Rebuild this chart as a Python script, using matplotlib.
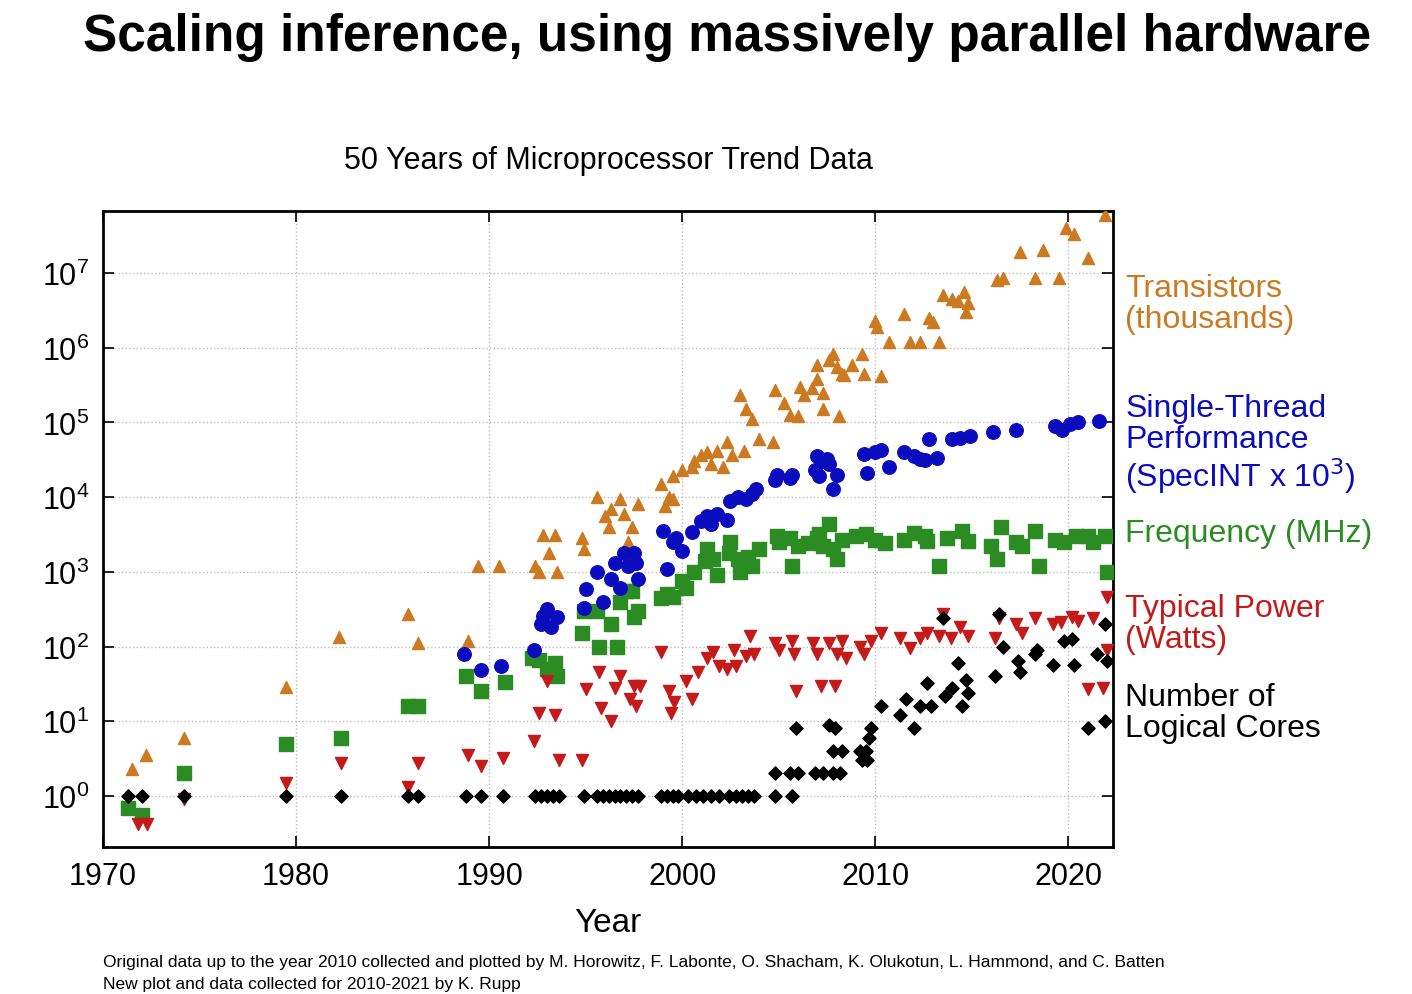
import matplotlib
matplotlib.use("Agg")
import matplotlib.pyplot as plt
import numpy as np

plt.rcParams['font.family'] = ['Liberation Sans', 'DejaVu Sans']

trans_year = [1971.5,1972.2,1974.2,1979.5,1982.2,1985.8,1986.3,1988.9,1989.4,1990.5,1992.4,1992.8,1993.4,1993.1,1993.5,1992.6,1994.8,1994.9,1995.6,1996,1996.3,1996.2,1996.8,1997,1997.4,1997.7,1997.2,1998.9,1999.3,1999.1,1999.5,1999.5,2000,2000.5,2000.6,2001,2001.3,2001.5,2001.8,2002.3,2002.1,2002.6,2003,2003.3,2003.6,2003.2,2004,2004.8,2004.7,2005.3,2005.6,2006.1,2006,2006.3,2006.7,2007,2007,2007.3,2007.3,2007.6,2007.8,2008,2008.1,2008.3,2008.4,2008.8,2009.3,2009.4,2010,2010.1,2010.3,2010.7,2011.5,2011.8,2012.3,2012.8,2013,2013.3,2013.5,2014,2014.3,2014.6,2014.7,2014.8,2016.3,2016.6,2017.5,2018.3,2018.7,2019.5,2019.9,2020.3,2021,2021.9]
trans_val = [2.3,3.5,6,29,134,275,110,120,1200,1200,1200,3100,3100,1800,1000,1000,2800,2000,10000,5500,7000,4000,9500,6000,4000,8000,2500,15000,10000,7500,19000,9500,23000,25000,30000,37000,40000,28000,42000,55000,25000,37000,230000,150000,110000,42000,60000,275000,55000,180000,125000,300000,120000,230000,290000,590000,380000,150000,250000,680000,820000,550000,120000,450000,430000,580000,820000,440000,2300000,1900000,420000,1200000,2800000,1200000,1200000,2500000,2200000,1200000,5000000,4500000,4200000,5500000,3000000,4000000,8000000,8500000,19000000,8500000,20000000,8500000,40000000,33000000,16000000,60000000]

st_year = [1988.7,1989.6,1990.6,1992.3,1992.7,1992.8,1993,1993.2,1993.5,1994.9,1995,1995.6,1995.9,1996.3,1996.5,1996.8,1997,1997.2,1997.5,1997.7,1997.6,1999,1999.2,1999.5,1999.7,2000,2000.5,2001,2001.3,2001.8,2001.5,2002.3,2002.5,2002.9,2003.3,2003.6,2003.8,2004.8,2004.9,2005.7,2005.6,2006.9,2007,2007.1,2007.3,2007.6,2007.8,2008,2007.5,2009.4,2009.6,2010,2010.3,2010.7,2011.5,2012,2012.3,2012.8,2012.6,2013.2,2014,2014.4,2014.9,2016.1,2017.3,2019.3,2019.7,2020.1,2020.5,2021.6]
st_val = [80,48,55,90,200,260,320,180,250,330,580,1000,400,800,1300,600,1800,1200,1800,800,1300,3500,1100,2500,2800,1900,3400,4800,5500,6000,4300,5000,9000,10000,9500,11000,13000,17000,20000,20000,18000,23000,35000,19000,30000,28000,13000,20000,32000,38000,21000,40000,43000,25000,40000,35000,32000,60000,31000,33000,60000,62000,65000,75000,80000,90000,80000,95000,100000,105000]

freq_year = [1971.3,1972,1974.2,1979.5,1982.3,1985.8,1986.3,1988.8,1989.6,1990.8,1992.2,1992.6,1993,1993.4,1993.5,1994.8,1994.9,1995.6,1995.7,1996.3,1996.6,1996.8,1997.1,1997.4,1997.5,1997.7,1998.9,1999.2,1999.5,2000,2000.2,2000.6,2001.2,2001.3,2001.8,2001.6,2002.4,2002.5,2002.9,2003,2003.4,2003.6,2004,2004.9,2005,2005.6,2005.7,2006,2006.5,2007,2007.1,2007.3,2007.6,2007.8,2008,2008.3,2009,2009.5,2010,2010.5,2011.5,2012,2012.6,2012.7,2013.3,2013.7,2014.5,2014.8,2016,2016.3,2016.5,2017.3,2017.6,2018.3,2018.5,2019.3,2019.8,2020.4,2021,2021.3,2021.9,2022]
freq_val = [0.7,0.55,2,5,6,16,16,40,25,33,70,66,50,60,40,150,300,300,100,200,100,400,550,550,250,300,450,500,460,750,600,1000,1400,2000,900,1500,1800,2500,1500,1000,1600,1200,2000,3000,2500,2800,1200,2200,2400,2800,3200,2200,4400,2000,1500,2700,3000,3200,2700,2400,2700,3300,3000,2600,1200,2800,3500,2600,2200,1500,4000,2500,2200,3500,1200,2700,2500,3000,3000,2500,3000,1000]

pow_year = [1971.8,1972.3,1974.2,1979.5,1982.3,1985.8,1986.3,1988.9,1989.6,1990.7,1992.3,1992.6,1993,1993.4,1993.6,1994.8,1995,1995.7,1995.8,1996.3,1996.5,1996.8,1997.3,1997.5,1997.6,1997.8,1998.9,1999.3,1999.4,1999.6,2000.2,2000.5,2000.8,2001.3,2001.6,2001.9,2002.3,2002.7,2002.8,2003.3,2003.5,2003.7,2004.8,2005,2005.7,2005.8,2005.9,2006.8,2007,2007.2,2007.6,2007.9,2008,2008.3,2008.5,2009.2,2009.4,2009.8,2010.3,2011.3,2011.8,2012.3,2012.7,2013.3,2013.5,2013.9,2014.4,2014.8,2016.2,2016.4,2017.3,2017.6,2018.3,2019.2,2019.6,2020.2,2020.5,2021,2021.3,2021.8,2022,2022]
pow_val = [0.42,0.42,0.9,1.5,2.8,1.3,2.8,3.5,2.5,3.2,5.5,13,35,12,3,3,27,45,15,10,28,40,20,30,16,30,85,25,13,18,35,20,45,70,85,55,50,90,55,75,140,80,110,90,120,80,25,110,80,30,110,30,80,120,70,100,80,120,150,130,95,130,150,140,270,130,180,140,130,240,200,150,240,200,210,250,220,27,240,28,90,460]

core_year = [1971.3,1972,1974.2,1979.5,1982.3,1985.8,1986.3,1988.8,1989.6,1990.7,1992.4,1992.7,1993,1993.3,1993.6,1994.9,1995.6,1995.9,1996.2,1996.5,1996.8,1997.1,1997.4,1997.7,1998.9,1999.2,1999.5,1999.8,2000.3,2000.7,2001.1,2001.5,2001.9,2002.4,2002.8,2003.1,2003.4,2003.7,2004.8,2005.7,2004.8,2005.6,2006,2006.9,2007.3,2007.8,2008.2,2005.9,2007.6,2007.8,2008.3,2007.9,2009.2,2009.5,2009.6,2009.7,2009.8,2009.3,2010.3,2011.3,2011.6,2012,2012.3,2012.7,2012.9,2013.5,2013.6,2014,2014.3,2014.5,2014.7,2014.8,2016.2,2016.4,2016.6,2017.4,2017.5,2018.3,2018.4,2019.2,2019.8,2020.2,2020.3,2021,2021.5,2021.9,2022,2021.9]
core_val = [1]*40 + [2,2,2,2,2,2,2,8,9,4,4,8,4,4,3,6,8,3,16,12,20,8,16,32,16,240,22,28,60,16,36,24,40,270,100,64,45,80,90,56,120,128,56,8,80,200,64,10]

fig = plt.figure(figsize=(14.12, 9.95), dpi=100)
ax = fig.add_axes([0.073, 0.148, 0.715, 0.639])
ms = 10
ax.scatter(trans_year, trans_val, marker='^', s=75, color='#cc7a22', zorder=3)
ax.scatter(st_year, st_val, marker='o', s=95, color='#0c0cbf', zorder=4)
ax.scatter(freq_year, freq_val, marker='s', s=95, color='#2a8c22', zorder=3)
ax.scatter(pow_year, pow_val, marker='v', s=75, color='#c41a1a', zorder=5)
ax.scatter(core_year, core_val, marker='D', s=45, color='black', zorder=6)

ax.set_yscale('log')
ax.set_xlim(1970, 2022.3)
ax.set_ylim(10**-0.68, 10**7.83)
ax.set_xticks([1970, 1980, 1990, 2000, 2010, 2020])
ax.set_yticks([10**i for i in range(8)])
ax.set_yticklabels([r'$\mathregular{10^{%d}}$' % i for i in range(8)])
ax.minorticks_off()
ax.grid(True, color='#bbbbbb', linestyle=':', linewidth=1)
ax.tick_params(direction='in', length=8, width=1.2, labelsize=22, top=True, right=True, pad=10)
for s in ax.spines.values():
    s.set_linewidth(2)
ax.set_xlabel('Year', fontsize=24, labelpad=12)

fig.text(0.515, 0.962, 'Scaling inference, using massively parallel hardware',
         ha='center', va='center', fontsize=37, fontweight='bold')
fig.text(0.431, 0.838, '50 Years of Microprocessor Trend Data', ha='center', va='center', fontsize=22)

lab = dict(fontsize=23, va='top', ha='left', linespacing=1.05)
fig.text(0.797, 0.725, 'Transistors\n(thousands)', color='#cc7a22', **lab)
fig.text(0.797, 0.604, 'Single-Thread\nPerformance\n(SpecINT x 10$^{3}$)', color='#0c0cbf', **lab)
fig.text(0.797, 0.478, 'Frequency (MHz)', color='#2a8c22', **lab)
fig.text(0.797, 0.403, 'Typical Power\n(Watts)', color='#c41a1a', **lab)
fig.text(0.797, 0.314, 'Number of\nLogical Cores', color='black', **lab)

fig.text(0.073, 0.033, 'Original data up to the year 2010 collected and plotted by M. Horowitz, F. Labonte, O. Shacham, K. Olukotun, L. Hammond, and C. Batten',
         fontsize=12.5, va='center')
fig.text(0.073, 0.011, 'New plot and data collected for 2010-2021 by K. Rupp', fontsize=12.5, va='center')

fig.savefig('out.png', dpi=100)
